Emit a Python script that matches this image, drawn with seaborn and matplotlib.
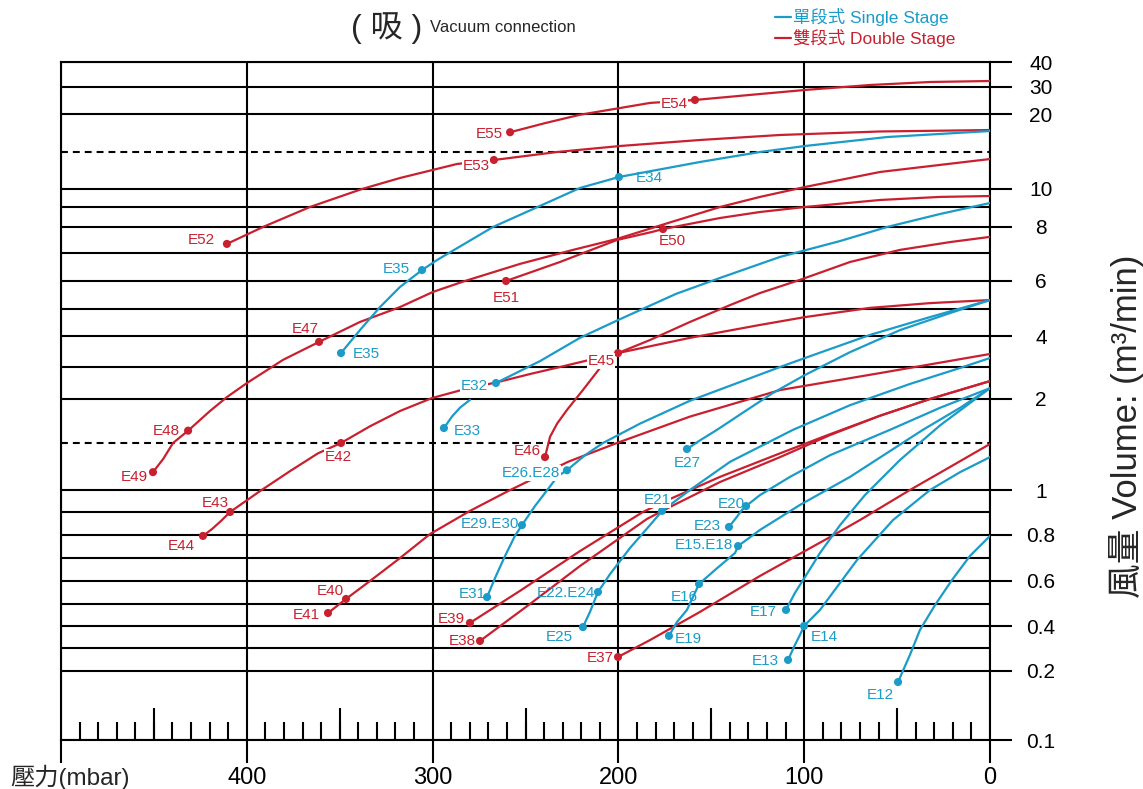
import numpy as np
import pandas as pd
import matplotlib
matplotlib.use("Agg")
import matplotlib.pyplot as plt
import seaborn as sns
from matplotlib.lines import Line2D
from matplotlib.ticker import MultipleLocator

# volume axis of the sheet: a hand-ruled scale, so keep the ruling as a table
vol_knots = [0.1, 0.2, 0.3, 0.4, 0.5, 0.6, 0.7, 0.8, 0.9, 1, 1.5, 2, 3, 4, 5, 6, 7, 8, 9, 10, 15, 20, 30, 40]
knot_pos = [0, 69, 92, 114, 136, 159, 182, 205, 228, 250, 297, 341, 373, 404, 431, 459, 487, 513, 533, 551, 588, 626, 653, 678]
vol_ticks = [0.1, 0.2, 0.4, 0.6, 0.8, 1, 2, 4, 6, 8, 10, 20, 30, 40]
vol_tick_labels = ["0.1", "0.2", "0.4", "0.6", "0.8", "1", "2", "4", "6", "8", "10", "20", "30", "40"]
vol_minor = [0.3, 0.5, 0.7, 0.9, 3, 5, 7, 9]
vol_dashed = [1.5, 15]
p_ticks = [0, 100, 200, 300, 400, 500]
p_tick_labels = ["0", "100", "200", "300", "400", ""]
p_half = [50, 150, 250, 350, 450]

# ---- double stage curves (pressure mbar, volume m3/min)
e55_p = [258.3, 239.5, 220.7, 201.8, 183.0, 158.8, 123.8, 99.6, 64.6, 32.3, 0]
e55_v = [17.6, 18.8, 19.9, 21.9, 24.1, 25.2, 27.4, 28.9, 30.8, 32.0, 32.4]
e52_p = [410.7, 391.3, 366.0, 338.0, 317.5, 286.9, 267.0, 233.0, 199.1, 156.1, 113.0, 59.2, 0]
e52_v = [7.35, 8.0, 9.0, 10.0, 11.49, 13.38, 13.92, 15.0, 15.79, 16.58, 17.24, 17.70, 17.89]
e51_p = [260.5, 231.4, 200.8, 181.9, 176.0, 145.3, 123.8, 99.6, 59.2, 26.9, 0]
e51_v = [6.0, 6.68, 7.5, 7.81, 7.92, 8.45, 8.75, 9.0, 9.39, 9.56, 9.61]
e49_p = [450.5, 445.0, 439.7, 431.6, 420.0, 410.7, 399.9, 380.5, 361.1, 339.1, 317.5, 299.8, 282.6, 253.0,
         224.4, 200.8, 172.2, 145.3, 123.8, 99.6, 59.2, 0]
e49_v = [1.19, 1.33, 1.5, 1.64, 1.86, 2.06, 2.5, 3.23, 3.81, 4.52, 5.07, 5.61, 6.0, 6.61,
         7.12, 7.54, 8.23, 9.0, 9.56, 10.27, 12.30, 14.05]
e44_p = [423.6, 418.7, 413.9, 409.0, 392.9, 376.8, 361.7, 349.3, 333.7, 317.5, 300.3, 282.6, 264.8,
         247.6, 231.4, 200.2, 161.5, 123.8, 99.6, 64.6, 32.3, 0]
e44_v = [0.796, 0.826, 0.861, 0.9, 0.995, 1.20, 1.39, 1.5, 1.69, 1.864, 2.03, 2.31, 2.53,
         2.78, 3.0, 3.45, 3.94, 4.41, 4.70, 5.04, 5.21, 5.32]
e45_p = [200.2, 183.0, 161.5, 139.9, 123.8, 102.3, 75.3, 48.4, 21.5, 0]
e45_v = [3.45, 3.87, 4.52, 5.14, 5.57, 6.04, 6.68, 7.12, 7.42, 7.62]
e46_p = [239.5, 236.8, 233.0, 227.7, 219.1, 209.9]
e46_v = [1.35, 1.57, 1.72, 1.875, 2.28, 2.97]
e41_p = [356.3, 346.6, 333.7, 317.5, 301.4, 279.9, 259.4, 227.1, 200.8, 161.5, 113.0, 59.2, 0]
e41_v = [0.459, 0.522, 0.6, 0.7, 0.804, 0.905, 0.995, 1.30, 1.5, 1.80, 2.28, 2.81, 3.42]
e39_p = [279.9, 253.0, 220.7, 186.8, 173.3, 145.3, 113.0, 86.1, 59.2, 32.3, 0]
e39_v = [0.414, 0.557, 0.730, 0.9, 0.955, 1.14, 1.39, 1.60, 1.81, 2.0, 2.56]
e38_p = [274.5, 247.6, 220.7, 184.6, 172.2, 145.3, 113.0, 86.1, 59.2, 32.3, 0]
e38_v = [0.332, 0.5, 0.665, 0.870, 0.923, 1.085, 1.35, 1.59, 1.81, 2.0, 2.56]
e37_p = [200.2, 183.0, 156.1, 123.8, 86.1, 70.0, 43.1, 21.5, 0]
e37_v = [0.261, 0.336, 0.464, 0.622, 0.791, 0.865, 1.0, 1.245, 1.49]

# ---- single stage curves
e35_p = [349.3, 339.1, 328.3, 317.5, 305.7, 297.6, 267.5, 242.2, 220.7, 199.7, 156.1, 123.8, 99.6, 55.4, 0]
e35_v = [3.45, 4.22, 5.07, 5.79, 6.39, 6.75, 8.0, 9.06, 10.14, 11.62, 13.65, 15.0, 15.79, 16.97, 17.76]
e32_p = [265.9, 242.2, 220.7, 200.2, 169.0, 145.3, 113.0, 80.7, 55.4, 26.9, 0]
e32_v = [2.5, 3.19, 3.94, 4.59, 5.54, 6.11, 6.86, 7.46, 8.0, 8.65, 9.22]
e33_p = [293.9, 289.6, 285.3, 279.9]
e33_v = [1.67, 1.80, 1.90, 1.99]
e31_p = [270.7, 266.4, 261.0, 255.7, 251.9, 244.9, 237.9, 232.5, 227.7, 218.0, 208.3, 188.4,
         161.5, 134.6, 113.0, 99.6, 64.6, 32.3, 0]
e31_v = [0.530, 0.613, 0.709, 0.796, 0.843, 0.927, 1.01, 1.15, 1.21, 1.37, 1.5, 1.72,
         1.98, 2.53, 3.0, 3.29, 4.04, 4.70, 5.32]
e27_p = [163.1, 156.1, 146.9, 131.9, 116.8, 99.6, 75.3, 48.4, 21.5, 0]
e27_v = [1.436, 1.53, 1.65, 1.86, 2.19, 2.75, 3.48, 4.22, 4.85, 5.32]
e25_p = [219.1, 215.3, 211.0, 204.5, 193.8, 183.0, 176.5, 161.5, 139.9, 106.0, 75.3, 43.1, 16.1, 0]
e25_v = [0.395, 0.464, 0.552, 0.630, 0.743, 0.843, 0.905, 1.0, 1.30, 1.65, 1.93, 2.47, 2.97, 3.29]
e23_p = [140.5, 136.7, 133.5, 131.3, 123.8, 107.6, 86.1, 53.8, 26.9, 0]
e23_v = [0.835, 0.874, 0.909, 0.927, 0.977, 1.14, 1.37, 1.65, 1.90, 2.34]
e19_p = [172.8, 168.5, 163.1, 156.6, 148.0, 137.2, 135.6, 123.8, 102.3, 75.3, 36.1, 16.1, 0]
e19_v = [0.355, 0.418, 0.473, 0.587, 0.648, 0.722, 0.752, 0.822, 0.932, 1.14, 1.65, 1.90, 2.34]
e17_p = [109.8, 105.0, 99.6, 91.5, 80.7, 67.3, 48.4, 26.9, 0]
e17_v = [0.473, 0.548, 0.617, 0.722, 0.843, 0.977, 1.32, 1.70, 2.34]
e13_p = [108.7, 105.0, 102.3, 100.1, 91.5, 71.6, 52.2, 32.3, 16.1, 0]
e13_v = [0.248, 0.314, 0.359, 0.4, 0.473, 0.691, 0.865, 1.0, 1.19, 1.35]
e12_p = [49.5, 43.1, 37.7, 29.6, 20.5, 10.8, 0]
e12_v = [0.184, 0.270, 0.382, 0.495, 0.604, 0.709, 0.796]

# ---- model points marked on the curves
dot_names = ["E55", "E54", "E53", "E52", "E51", "E50", "E49", "E48", "E47", "E46", "E45", "E44", "E43",
             "E42", "E41", "E40", "E39", "E38", "E37",
             "E35", "E35", "E34", "E33", "E32", "E27", "E26.E28", "E29.E30", "E31", "E25", "E22.E24",
             "E21", "E23", "E20", "E19", "E16", "E15.E18", "E17", "E14", "E13", "E12"]
dot_p = [258.3, 158.8, 267.0, 410.7, 260.5, 176.0, 450.5, 431.6, 361.1, 239.5, 200.2, 423.6, 409.0,
         349.3, 356.3, 346.6, 279.9, 274.5, 200.2,
         349.3, 305.7, 199.7, 293.9, 265.9, 163.1, 227.7, 251.9, 270.7, 219.1, 211.0,
         176.5, 140.5, 131.3, 172.8, 156.6, 135.6, 109.8, 100.1, 108.7, 49.5]
dot_v = [17.6, 25.2, 13.92, 7.35, 6.0, 7.92, 1.19, 1.64, 3.81, 1.35, 3.45, 0.796, 0.9,
         1.5, 0.459, 0.522, 0.414, 0.332, 0.261,
         3.45, 6.39, 11.62, 1.67, 2.5, 1.436, 1.21, 0.843, 0.530, 0.395, 0.552,
         0.905, 0.835, 0.927, 0.355, 0.587, 0.752, 0.473, 0.4, 0.248, 0.184]
dot_stage = ["Double"] * 19 + ["Single"] * 21

# label offsets from each dot, in pixels (right, up)
label_off = [(-21, -2), (-21, -4), (-18, -6), (-26, 4), (0, -17), (9, -12), (-19, -5), (-22, 0), (-14, 13),
             (-18, 6), (-17, -8), (-22, -10), (-15, 9), (-3, -14), (-22, -2), (-16, 8), (-19, 4), (-18, 0),
             (-18, -1),
             (25, -1), (-26, 1), (30, -1), (23, -3), (-22, -3), (0, -14), (-36, -3), (-32, 1), (-15, 3),
             (-24, -10), (-32, -1), (-5, 11), (-22, 1), (-15, 2), (19, -3), (-15, -13), (-34, 1),
             (-23, -2), (20, -11), (-23, -1), (-18, -13)]
# labels that interrupt the curve running under them
masking = {"E54", "E53", "E21", "E45", "E32", "E26.E28", "E42"}

BLUE = "#1b9bc8"
RED = "#c9202f"

curves = [
    ("E55", "Double", e55_p, e55_v), ("E52", "Double", e52_p, e52_v), ("E51", "Double", e51_p, e51_v),
    ("E49", "Double", e49_p, e49_v), ("E44", "Double", e44_p, e44_v), ("E45", "Double", e45_p, e45_v),
    ("E46", "Double", e46_p, e46_v), ("E41", "Double", e41_p, e41_v), ("E39", "Double", e39_p, e39_v),
    ("E38", "Double", e38_p, e38_v), ("E37", "Double", e37_p, e37_v),
    ("E35", "Single", e35_p, e35_v), ("E32", "Single", e32_p, e32_v), ("E33", "Single", e33_p, e33_v),
    ("E31", "Single", e31_p, e31_v), ("E27", "Single", e27_p, e27_v), ("E25", "Single", e25_p, e25_v),
    ("E23", "Single", e23_p, e23_v), ("E19", "Single", e19_p, e19_v), ("E17", "Single", e17_p, e17_v),
    ("E13", "Single", e13_p, e13_v), ("E12", "Single", e12_p, e12_v),
]
rows = []
for name, stage, ps, vs in curves:
    for i, (p, v) in enumerate(zip(ps, vs)):
        rows.append({"curve": name, "stage": stage, "step": i, "pressure": p, "volume": v})
df = pd.DataFrame(rows)
dots = pd.DataFrame({"name": dot_names, "pressure": dot_p, "volume": dot_v, "stage": dot_stage})

sns.set_style("white")
plt.rcParams["font.family"] = ["Liberation Sans", "Noto Sans CJK TC", "DejaVu Sans"]

fig = plt.figure(figsize=(11.43, 7.89), dpi=100)
ax = fig.add_axes([61 / 1143, 49 / 789, 929 / 1143, 678 / 789])


def fwd(v):
    return np.interp(v, vol_knots, knot_pos)


def inv(y):
    return np.interp(y, knot_pos, vol_knots)


ax.set_yscale("function", functions=(fwd, inv))

palette = {"Single": BLUE, "Double": RED}
sns.lineplot(data=df, x="pressure", y="volume", hue="stage", units="curve", estimator=None,
             sort=False, palette=palette, linewidth=1.6, legend=False, ax=ax, zorder=3)
sns.scatterplot(data=dots, x="pressure", y="volume", hue="stage", palette=palette, s=34,
                edgecolor="none", legend=False, ax=ax, zorder=4)

px = 72 / 100
for name, p, v, st, (dx, dy) in zip(dot_names, dot_p, dot_v, dot_stage, label_off):
    box = dict(boxstyle="square,pad=0.05", fc="white", ec="none") if name in masking else None
    ax.annotate(name, xy=(p, v), xytext=(dx * px, dy * px), textcoords="offset points",
                ha="center", va="center", fontsize=11, color=palette[st], zorder=5, bbox=box)

ax.set_xlim(500, 0)
ax.set_ylim(0.1, 40)

# ruling
ax.set_yticks(vol_ticks)
ax.set_yticklabels(vol_tick_labels)
ax.set_yticks(vol_minor, minor=True)
ax.yaxis.grid(True, which="major", color="black", linewidth=1.5)
ax.yaxis.grid(True, which="minor", color="black", linewidth=1.5)
for v in vol_dashed:
    ax.axhline(v, color="black", linewidth=1.5, linestyle=(0, (3.3, 2.4)), zorder=1)
ax.set_xticks(p_ticks)
ax.set_xticklabels(p_tick_labels)
ax.xaxis.grid(True, which="major", color="black", linewidth=1.5)
ax.xaxis.set_minor_locator(MultipleLocator(10))
ax.vlines(p_half, 0, 32 / 678, transform=ax.get_xaxis_transform(), color="black", linewidth=1.5)

ax.yaxis.tick_right()
ax.tick_params(axis="y", which="major", right=True, direction="out", length=22 * px, width=1.5,
               labelsize=15, pad=29 * px, colors="black")
ax.tick_params(axis="y", which="minor", length=0)
for t in ax.get_yticklabels():
    t.set_horizontalalignment("center")
ax.tick_params(axis="x", which="major", bottom=True, direction="out", length=23 * px, width=1.5,
               labelsize=17, pad=3, colors="black")
ax.tick_params(axis="x", which="minor", bottom=True, direction="in", length=18 * px, width=1.5,
               colors="black")
for s in ax.spines.values():
    s.set_linewidth(1.5)
    s.set_color("black")
ax.set_xlabel("")
ax.set_ylabel("")

# headings
fig.text(387 / 1143, 1 - 28 / 789, "( 吸 )", ha="center", va="center", fontsize=23)
fig.text(430 / 1143, 1 - 27 / 789, "Vacuum connection", ha="left", va="center", fontsize=12)
fig.text(10 / 1143, 1 - 777 / 789, "壓力(mbar)", ha="left", va="center", fontsize=17.5)
fig.text(1126 / 1143, 1 - 426 / 789, "風量 Volume: (m³/min)", ha="center", va="center",
         rotation=90, fontsize=25)

handles = [Line2D([], [], color=BLUE, linewidth=1.6), Line2D([], [], color=RED, linewidth=1.6)]
fig.legend(handles, ["單段式 Single Stage", "雙段式 Double Stage"], loc="upper left",
           bbox_to_anchor=(775 / 1143, 1 - 8 / 789), frameon=False, handlelength=0.9,
           handletextpad=0.15, labelspacing=0.15, fontsize=12.5, borderpad=0, borderaxespad=0,
           labelcolor="linecolor")

fig.savefig("out.png", dpi=100, facecolor="white")
